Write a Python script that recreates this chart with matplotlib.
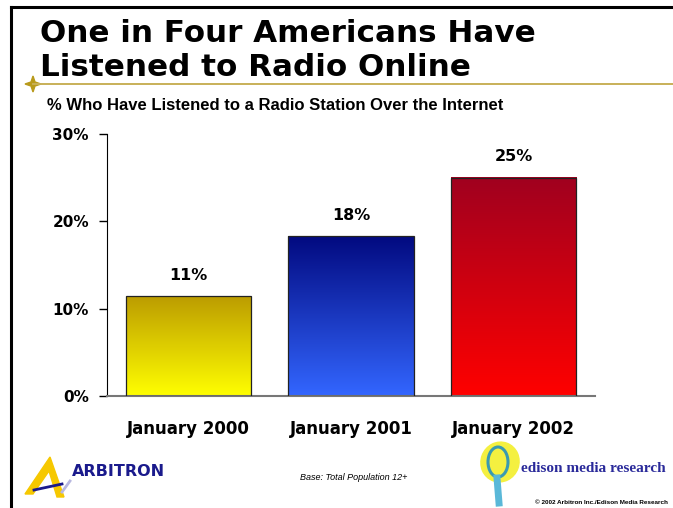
import numpy as np
import matplotlib
matplotlib.use("Agg")
import matplotlib.pyplot as plt
from matplotlib.colors import LinearSegmentedColormap
from matplotlib.patches import Polygon, Ellipse
from matplotlib.lines import Line2D

# survey results
years = ["January 2000", "January 2001", "January 2002"]
listened_pct = [11.4, 18.3, 25.0]
yticks = [0, 10, 20, 30]

# top / bottom colours of each bar gradient
grad_top = ["#bc9c00", "#020a80", "#a0001f"]
grad_bottom = ["#ffff00", "#3366ff", "#ff0000"]

fig = plt.figure(figsize=(6.73, 5.08), dpi=100)

# overlay in pixel coordinates for the slide decorations
deco = fig.add_axes([0, 0, 1, 1])
deco.set_xlim(0, 673)
deco.set_ylim(508, 0)
deco.axis("off")

# slide frame
deco.add_line(Line2D([11, 673], [7, 7], color="black", lw=2.2))
deco.add_line(Line2D([11, 11], [7, 508], color="black", lw=2.2))

# title
deco.text(40, 42, "One in Four Americans Have", fontsize=22.3, fontweight="bold",
          family="DejaVu Sans", va="baseline", ha="left")
deco.text(40, 76, "Listened to Radio Online", fontsize=22.3, fontweight="bold",
          family="DejaVu Sans", va="baseline", ha="left")

# gold rule with a star on its left end
deco.add_line(Line2D([33, 673], [84, 84], color="#c8b058", lw=1.4))
sx, sy = 33, 84
star = [(sx, sy - 8), (sx + 2, sy - 2), (sx + 8, sy), (sx + 2, sy + 2),
        (sx, sy + 8), (sx - 2, sy + 2), (sx - 8, sy), (sx - 2, sy - 2)]
deco.add_patch(Polygon(star, closed=True, color="#b89a1c"))

deco.text(47, 105, "% Who Have Listened to a Radio Station Over the Internet",
          fontsize=12, fontweight="bold", family="Liberation Sans", va="center")

# bar chart
ax = fig.add_axes([107 / 673, 112 / 508, (595 - 107) / 673, (374 - 112) / 508])
x = np.arange(len(years))
bars = ax.bar(x, listened_pct, width=0.77, facecolor="none",
              edgecolor="#222222", linewidth=0.9, zorder=3)

grad = np.linspace(0, 1, 256).reshape(-1, 1)
for b, top, bottom in zip(bars, grad_top, grad_bottom):
    cmap = LinearSegmentedColormap.from_list("g", [bottom, top])
    ax.imshow(grad, cmap=cmap, origin="lower", aspect="auto", zorder=2,
              extent=[b.get_x(), b.get_x() + b.get_width(), 0, b.get_height()])

for xi, v in zip(x, listened_pct):
    ax.text(xi, v + 2.4, f"{v:.0f}%", ha="center", va="center",
            fontsize=11.5, fontweight="bold", family="DejaVu Sans")

ax.set_xlim(-0.5, 2.5)
ax.set_ylim(0, 30)
ax.set_yticks(yticks)
ax.set_yticklabels([f"{t}%" for t in yticks], fontsize=11, fontweight="bold",
                   family="DejaVu Sans")
ax.set_xticks(x)
ax.set_xticklabels(years, fontsize=12, fontweight="bold", family="DejaVu Sans")
ax.tick_params(axis="y", length=6, width=1, pad=7)
ax.tick_params(axis="x", length=0, pad=17)
ax.spines["top"].set_visible(False)
ax.spines["right"].set_visible(False)
ax.spines["left"].set_color("black")
ax.spines["bottom"].set_color("#777777")
ax.spines["bottom"].set_linewidth(1.5)
ax.set_facecolor("none")

# Arbitron logo
deco.add_patch(Polygon([(50, 457), (64, 497), (57, 497), (49, 471), (33, 494), (25, 494)],
                       closed=True, color="#f6c800"))
deco.add_line(Line2D([34, 62], [490, 484], color="#1a1a8c", lw=2))
deco.add_line(Line2D([62, 70], [492, 481], color="#b8b8e0", lw=2))
deco.text(72, 471, "ARBITRON", fontsize=11.5, fontweight="bold", color="#1a1a8c",
          family="DejaVu Sans", va="center")

# footnote
deco.text(300, 477, "Base: Total Population 12+", fontsize=6.5, style="italic",
          family="Liberation Sans", va="center")

# Edison logo
deco.add_patch(Ellipse((500, 462), 38, 40, angle=20, color="#f4f040"))
deco.add_patch(Ellipse((498, 462), 20, 30, fill=False, ec="#3a9ab0", lw=2.2))
deco.add_line(Line2D([497, 499], [478, 503], color="#5ab8d8", lw=5))
deco.text(521, 469, "edison media research", fontsize=11, fontweight="bold",
          color="#2a2a9a", family="Liberation Serif", va="center")
deco.text(668, 503, "\u00a9 2002 Arbitron Inc./Edison Media Research", fontsize=4.6,
          fontweight="bold", family="Liberation Sans", ha="right", va="center")

fig.savefig("out.png", dpi=100)
